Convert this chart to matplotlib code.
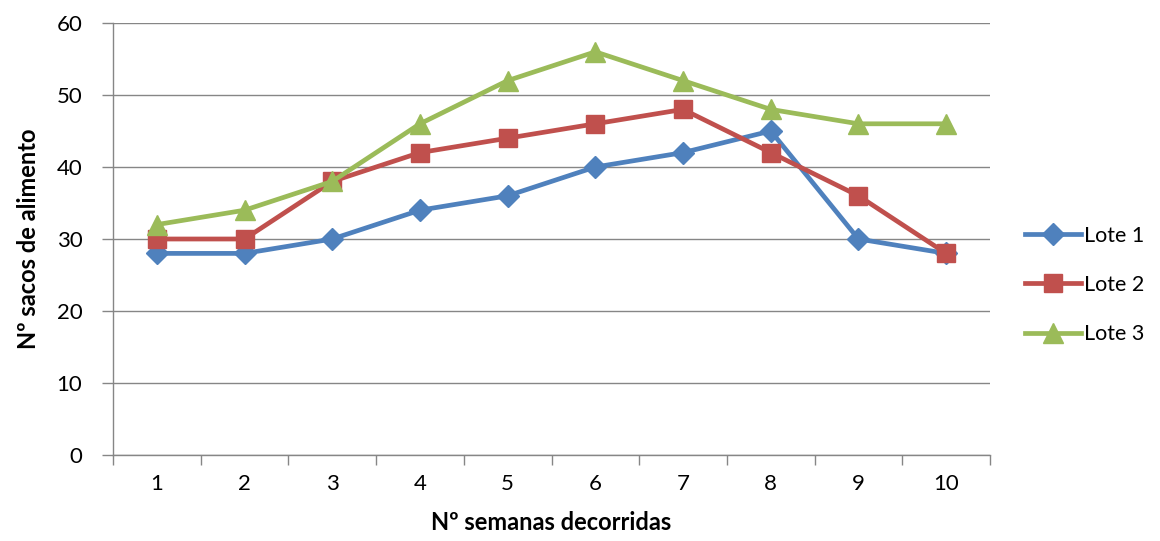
import numpy as np
import matplotlib.pyplot as plt

plt.rcParams['font.family'] = ['Lato', 'DejaVu Sans']

semanas = [1, 2, 3, 4, 5, 6, 7, 8, 9, 10]
lote1 = [28, 28, 30, 34, 36, 40, 42, 45, 30, 28]
lote2 = [30, 30, 38, 42, 44, 46, 48, 42, 36, 28]
lote3 = [32, 34, 38, 46, 52, 56, 52, 48, 46, 46]

grid_col = '#868686'

fig = plt.figure(figsize=(11.6, 5.41), dpi=100)
ax = fig.add_axes([113/1160, 1 - 455/541, 877/1160, 432/541])

ax.plot(semanas, lote1, color='#4F81BD', lw=3.4, marker='D', ms=11, label='Lote 1', zorder=3)
ax.plot(semanas, lote2, color='#C0504D', lw=3.4, marker='s', ms=13.5, label='Lote 2', zorder=3)
ax.plot(semanas, lote3, color='#9BBB59', lw=3.4, marker='^', ms=14, label='Lote 3', zorder=3)

ax.set_xlim(0.5, 10.5)
ax.set_ylim(0, 60)
ax.set_yticks(np.arange(0, 61, 10))
ax.yaxis.grid(True, color=grid_col, lw=1)
ax.set_axisbelow(True)

ax.set_xticks(np.arange(0.5, 10.6, 1))
ax.set_xticklabels([])
ax.set_xticks(semanas, minor=True)
ax.set_xticklabels([str(s) for s in semanas], minor=True)
ax.tick_params(axis='x', which='major', length=7, width=1, color=grid_col, direction='out')
ax.tick_params(axis='x', which='minor', length=0, pad=14, labelsize=16)
ax.tick_params(axis='y', length=8, width=1, color=grid_col, labelsize=16, pad=14)

for s in ['top', 'right']:
    ax.spines[s].set_visible(False)
for s in ['left', 'bottom']:
    ax.spines[s].set_color(grid_col)
    ax.spines[s].set_linewidth(1)

ax.set_xlabel('Nº semanas decorridas', fontsize=17, fontweight='bold', labelpad=12)
ax.set_ylabel('Nº sacos de alimento', fontsize=17, fontweight='bold', labelpad=12)

fig.legend(loc='center left', bbox_to_anchor=(1006/1160, 1 - 285/541), frameon=False,
           fontsize=15.5, handlelength=2.6, labelspacing=1.35, handletextpad=0.1,
           borderaxespad=0.5)

fig.savefig('out.png', dpi=100)
